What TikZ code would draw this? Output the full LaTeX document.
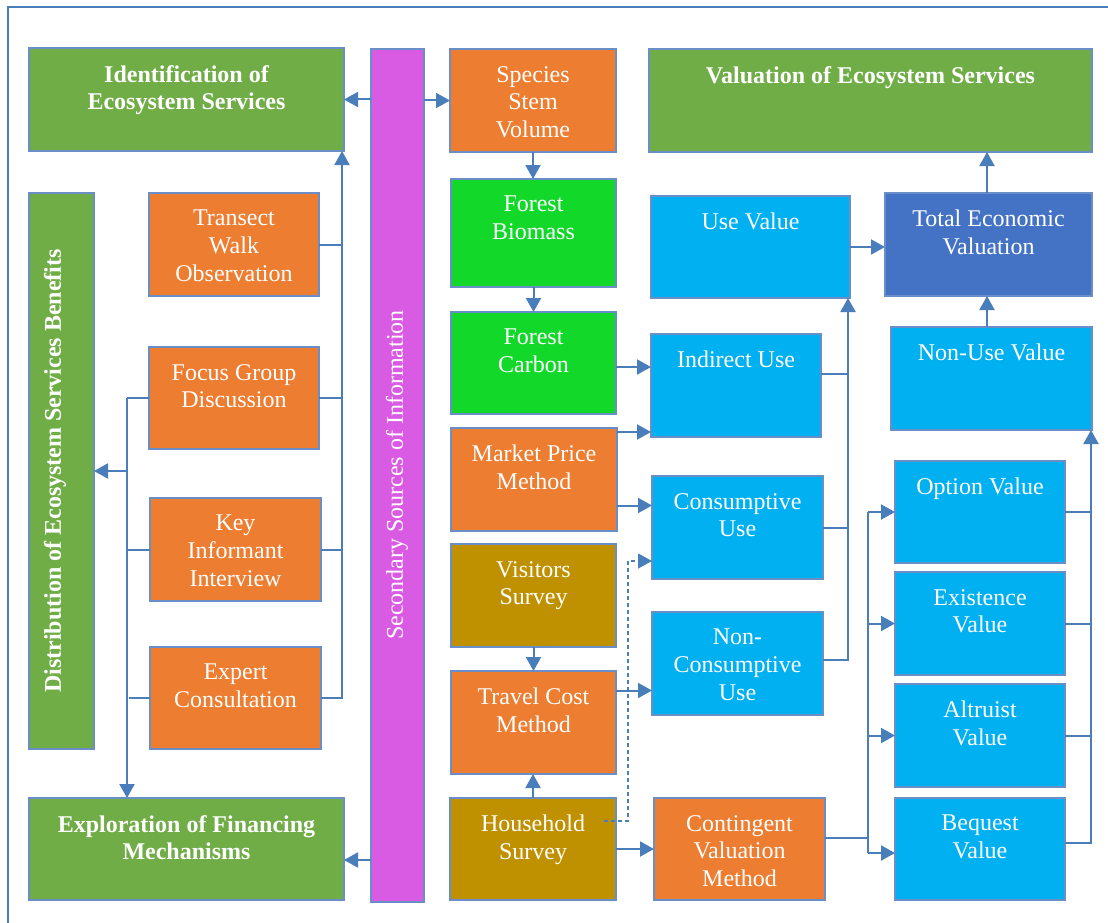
\documentclass[tikz,border=0pt]{standalone}
\usepackage{fontspec}
\setmainfont{Liberation Serif}
\usetikzlibrary{arrows.meta}

\definecolor{cgreen}{HTML}{70AD47}
\definecolor{corange}{HTML}{ED7D31}
\definecolor{cbright}{HTML}{12D82A}
\definecolor{cmustard}{HTML}{BF9000}
\definecolor{ccyan}{HTML}{00B0F0}
\definecolor{cblue}{HTML}{4472C4}
\definecolor{cmagenta}{HTML}{D95BE3}
\definecolor{cline}{HTML}{4A7EBB}
\definecolor{cborder}{HTML}{6A8FC8}

% box with given corners (px-like units, y pointing down)
\newcommand{\ebox}[6]{%
  \node[box,#6,minimum width={#4-#2},minimum height={#5-#3}] (#1)
    at ({(#2+#4)/2},{(#3+#5)/2}) {};}
% top-aligned white caption inside a box
\newcommand{\btext}[3][]{%
  \node[lbl,#1,anchor=north] (#2-t) at ([yshift=-17pt]#2.north) {#3};}

\begin{document}
\begin{tikzpicture}[x=1pt,y=-1pt,
  box/.style={draw=cborder,line width=1.3pt,inner sep=0pt,outer sep=0pt},
  lbl/.style={text=white,inner sep=0pt,align=center,
    font=\fontsize{24}{27.6}\selectfont},
  blbl/.style={lbl,font=\fontsize{24}{27.6}\selectfont\bfseries},
  ln/.style={draw=cline,line width=2pt},
  arr/.style={ln,-{Triangle[length=14pt,width=15pt]}},
  dsh/.style={arr,line width=1.4pt,dash pattern=on 4pt off 3pt},
  frame/.style={draw=cline,line width=1.6pt}]

\useasboundingbox (0,0) rectangle (1108,923);
\fill[white] (0,0) rectangle (1108,923);
\draw[frame] (8,923) -- (8,7) -- (1108,7);

% ---------- boxes ----------
\ebox{ident}{29}{48}{344}{151}{fill=cgreen}
\ebox{dist}{29}{193}{94}{749}{fill=cgreen}
\ebox{expl}{29}{798}{344}{900}{fill=cgreen}
\ebox{transect}{149}{193}{319}{296}{fill=corange}
\ebox{focus}{149}{347}{319}{449}{fill=corange}
\ebox{key}{150}{498}{321}{601}{fill=corange}
\ebox{expert}{150}{647}{321}{749}{fill=corange}
\ebox{sec}{371}{49}{424}{902}{fill=cmagenta}
\ebox{species}{450}{49}{616}{152}{fill=corange}
\ebox{biomass}{451}{179}{616}{287}{fill=cbright}
\ebox{carbon}{451}{312}{616}{414}{fill=cbright}
\ebox{market}{451}{428}{617}{531}{fill=corange}
\ebox{visitors}{451}{544}{616}{647}{fill=cmustard}
\ebox{travel}{451}{671}{616}{774}{fill=corange}
\ebox{household}{450}{798}{616}{900}{fill=cmustard}
\ebox{valuation}{649}{49}{1092}{152}{fill=cgreen}
\ebox{usev}{651}{196}{850}{298}{fill=ccyan}
\ebox{total}{885}{193}{1092}{296}{fill=cblue}
\ebox{indirect}{651}{334}{821}{437}{fill=ccyan}
\ebox{nonuse}{891}{327}{1092}{430}{fill=ccyan}
\ebox{consumptive}{652}{476}{823}{579}{fill=ccyan}
\ebox{option}{895}{461}{1065}{563}{fill=ccyan}
\ebox{existence}{895}{572}{1065}{675}{fill=ccyan}
\ebox{noncons}{652}{612}{823}{715}{fill=ccyan}
\ebox{altruist}{895}{684}{1065}{787}{fill=ccyan}
\ebox{contingent}{654}{798}{825}{900}{fill=corange}
\ebox{bequest}{895}{798}{1065}{900}{fill=ccyan}

% ---------- captions ----------
\btext[blbl]{ident}{Identification of\\Ecosystem Services}
\btext[blbl]{expl}{Exploration of Financing\\Mechanisms}
\btext[blbl]{valuation}{Valuation of Ecosystem Services}
\node[blbl,rotate=90] (dist-t) at (55,471) {Distribution of Ecosystem Services Benefits};
\node[lbl,rotate=90] (sec-t) at (397,475) {Secondary Sources of Information};
\btext{transect}{Transect\\Walk\\Observation}
\btext{focus}{Focus Group\\Discussion}
\btext{key}{Key\\Informant\\Interview}
\btext{expert}{Expert\\Consultation}
\btext{species}{Species\\Stem\\Volume}
\btext{biomass}{Forest\\Biomass}
\btext{carbon}{Forest\\Carbon}
\btext{market}{Market Price\\Method}
\btext{visitors}{Visitors\\Survey}
\btext{travel}{Travel Cost\\Method}
\btext{household}{Household\\Survey}
\btext{usev}{Use Value}
\btext{total}{Total Economic\\Valuation}
\btext{indirect}{Indirect Use}
\btext{nonuse}{Non-Use Value}
\btext{consumptive}{Consumptive\\Use}
\btext{option}{Option Value}
\btext{existence}{Existence\\Value}
\btext{noncons}{Non-\\Consumptive\\Use}
\btext{altruist}{Altruist\\Value}
\btext{contingent}{Contingent\\Valuation\\Method}
\btext{bequest}{Bequest\\Value}

% ---------- secondary sources ----------
\draw[arr] (sec.west |- ident.east) -- (ident.east);
\draw[arr] (sec.east |- species.west) -- (species.west);
\coordinate (ex1) at ([yshift=-11pt]expl.east);
\draw[arr] (sec.west |- ex1) -- (ex1);

% ---------- primary methods -> identification ----------
\coordinate (busR) at (342,0);
\draw[ln] (transect.east) -- (busR |- transect.east);
\draw[ln] (focus.east) -- (busR |- focus.east);
\draw[ln] (key.east) -- (busR |- key.east);
\draw[arr] (expert.east) -| (busR |- ident.south);

% ---------- primary methods -> distribution / exploration ----------
\coordinate (busL) at (127,0);
\coordinate (busLe) at (129,0);
\draw[ln] (focus.west) -- (busL |- focus.west);
\draw[ln] (key.west) -- (busL |- key.west);
\draw[ln] (expert.west) -- (busLe |- expert.west);
\draw[arr] (busL |- focus.west) -- (busL |- expl.north);
\draw[arr] (busL |- dist.east) -- (dist.east);

% ---------- carbon chain ----------
\draw[arr] (species.south) -- (species.south |- biomass.north);
\draw[arr] (biomass.south) -- (biomass.south |- carbon.north);
\coordinate (c1) at ([yshift=-4pt]carbon.east);
\draw[arr] (c1) -- (indirect.west |- c1);
\coordinate (m1) at ([yshift=-4pt]market.north east);
\draw[arr] (m1) -- (indirect.west |- m1);
\coordinate (m2) at ([yshift=-26pt]market.east);
\draw[arr] (m2) -- (consumptive.west |- m2);

% ---------- surveys ----------
\coordinate (dashT) at ([yshift=-85pt]consumptive.north west);
\coordinate (dashC) at ([xshift=-24pt]dashT);
\coordinate (dashS) at ([xshift=-12pt,yshift=-23pt]household.north east);
\draw[dsh] (dashS) -| (dashC) -- (dashT);
\draw[arr] (visitors.south) -- (visitors.south |- travel.north);
\draw[arr] (household.north) -- (household.north |- travel.south);
\coordinate (n1) at ([yshift=-27pt]noncons.west);
\draw[arr] (travel.east |- n1) -- (n1);
\draw[arr] (household.east) -- (contingent.west |- household.east);

% ---------- use values ----------
\coordinate (busU) at ([xshift=-2pt]usev.south east);
\coordinate (i1) at ([yshift=11.5pt]indirect.east);
\draw[ln] (i1) -- (busU |- i1);
\draw[ln] (consumptive.east) -- (busU |- consumptive.east);
\coordinate (n2) at ([yshift=4pt]noncons.east);
\draw[arr] (n2) -| (busU);
\draw[arr] (usev.east) -- (total.west |- usev.east);
\coordinate (t1) at ([xshift=-1.5pt]total.north);
\draw[arr] (t1) -- (t1 |- valuation.south);
\coordinate (t2) at ([xshift=-1.5pt]total.south);
\draw[arr] (t2 |- nonuse.north) -- (t2);

% ---------- non-use values ----------
\coordinate (busN) at ([xshift=-1pt]nonuse.south east);
\draw[ln] (option.east) -- (busN |- option.east);
\draw[ln] (existence.east) -- (busN |- existence.east);
\draw[ln] (altruist.east) -- (busN |- altruist.east);
\coordinate (bq1) at ([yshift=6pt]bequest.east);
\draw[arr] (bq1) -| (busN);

\coordinate (busV) at (868,0);
\coordinate (k1) at ([yshift=11pt]contingent.east);
\coordinate (bq2) at ([yshift=-4pt]bequest.west);
\draw[ln] (k1) -- (busV |- k1);
\draw[ln] (busV |- option.west) -- (busV |- bq2);
\draw[arr] (busV |- option.west) -- (option.west);
\draw[arr] (busV |- existence.west) -- (existence.west);
\draw[arr] (busV |- altruist.west) -- (altruist.west);
\draw[arr] (busV |- bq2) -- (bq2);

\end{tikzpicture}
\end{document}
